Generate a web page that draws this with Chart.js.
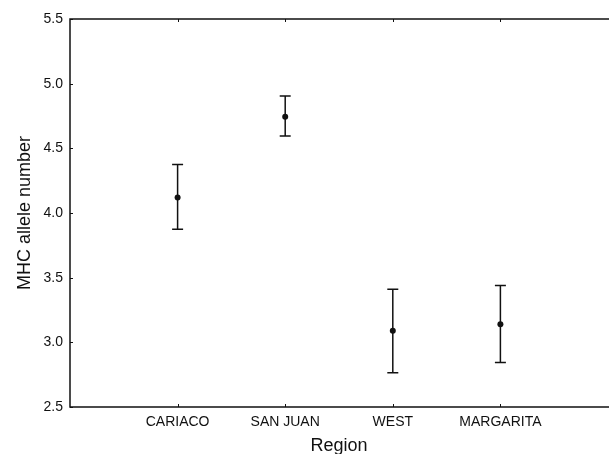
<!DOCTYPE html>
<html>
<head>
<meta charset="utf-8">
<script src="https://cdn.jsdelivr.net/npm/chart.js@4/dist/chart.umd.min.js"></script>
<style>
  html, body { margin: 0; padding: 0; background: #fff; overflow: hidden; }
  canvas { display: block; }
</style>
</head>
<body>
<canvas id="chart" width="612" height="454"></canvas>
<script>
const regions = ["CARIACO", "SAN JUAN", "WEST", "MARGARITA"];
const means = [4.12, 4.745, 3.09, 3.14];
const lower = [3.875, 4.595, 2.765, 2.845];
const upper = [4.375, 4.905, 3.41, 3.44];
const yTicks = [2.5, 3.0, 3.5, 4.0, 4.5, 5.0, 5.5];

const points = means.map((m, i) => ({ x: i + 1, y: m }));
const ink = "#111";

// frame, inward tick marks and error bars
const framePlugin = {
  id: "frame",
  beforeDatasetsDraw(chart) {
    const { ctx, chartArea: a, scales: { x, y } } = chart;
    ctx.save();
    ctx.strokeStyle = ink;
    ctx.lineWidth = 1.5;
    ctx.beginPath();
    ctx.moveTo(a.right + 2, a.top);
    ctx.lineTo(a.left, a.top);
    ctx.lineTo(a.left, a.bottom);
    ctx.lineTo(a.right + 2, a.bottom);
    ctx.stroke();

    ctx.lineWidth = 1;
    ctx.beginPath();
    regions.forEach((r, i) => {
      const px = Math.round(x.getPixelForValue(i + 1)) + 0.5;
      ctx.moveTo(px, a.bottom);
      ctx.lineTo(px, a.bottom - 3);
      ctx.moveTo(px, a.top);
      ctx.lineTo(px, a.top + 3);
    });
    yTicks.forEach(v => {
      const py = Math.round(y.getPixelForValue(v)) + 0.5;
      ctx.moveTo(a.left, py);
      ctx.lineTo(a.left + 3, py);
    });
    ctx.stroke();

    ctx.lineWidth = 1.5;
    ctx.beginPath();
    regions.forEach((r, i) => {
      const px = x.getPixelForValue(i + 1);
      const lo = y.getPixelForValue(lower[i]);
      const hi = y.getPixelForValue(upper[i]);
      ctx.moveTo(px, lo);
      ctx.lineTo(px, hi);
      ctx.moveTo(px - 5.5, lo);
      ctx.lineTo(px + 5.5, lo);
      ctx.moveTo(px - 5.5, hi);
      ctx.lineTo(px + 5.5, hi);
    });
    ctx.stroke();
    ctx.restore();
  }
};

new Chart(document.getElementById("chart"), {
  type: "scatter",
  data: {
    datasets: [{
      data: points,
      pointRadius: 3,
      pointBackgroundColor: ink,
      pointBorderColor: ink,
      pointBorderWidth: 0,
      showLine: false
    }]
  },
  options: {
    responsive: false,
    animation: false,
    devicePixelRatio: 1,
    layout: { padding: { top: 19, right: 0, left: 0, bottom: 0 } },
    plugins: {
      legend: { display: false },
      tooltip: { enabled: false }
    },
    scales: {
      x: {
        type: "linear",
        min: 0,
        max: 5,
        afterFit: s => { s.height = 47; },
        afterBuildTicks: s => { s.ticks = regions.map((r, i) => ({ value: i + 1 })); },
        grid: { display: false, drawTicks: false },
        border: { display: false },
        ticks: {
          padding: 7,
          color: ink,
          font: { family: "Liberation Sans, Arial, sans-serif", size: 14 },
          callback: v => regions[v - 1] || ""
        },
        title: {
          display: true,
          text: "Region",
          color: ink,
          padding: 0,
          font: { family: "Liberation Sans, Arial, sans-serif", size: 18, lineHeight: 0.9 }
        }
      },
      y: {
        min: 2.5,
        max: 5.5,
        afterFit: s => { s.width = 70; },
        afterBuildTicks: s => { s.ticks = yTicks.map(v => ({ value: v })); },
        grid: { display: false, drawTicks: false },
        border: { display: false },
        ticks: {
          padding: 7,
          color: ink,
          font: { family: "Liberation Sans, Arial, sans-serif", size: 14 },
          callback: v => v.toFixed(1)
        },
        title: {
          display: true,
          text: "MHC allele number",
          color: ink,
          padding: { top: 14, bottom: 0 },
          font: { family: "Liberation Sans, Arial, sans-serif", size: 18, lineHeight: 1.2 }
        }
      }
    }
  },
  plugins: [framePlugin]
});
</script>
</body>
</html>
